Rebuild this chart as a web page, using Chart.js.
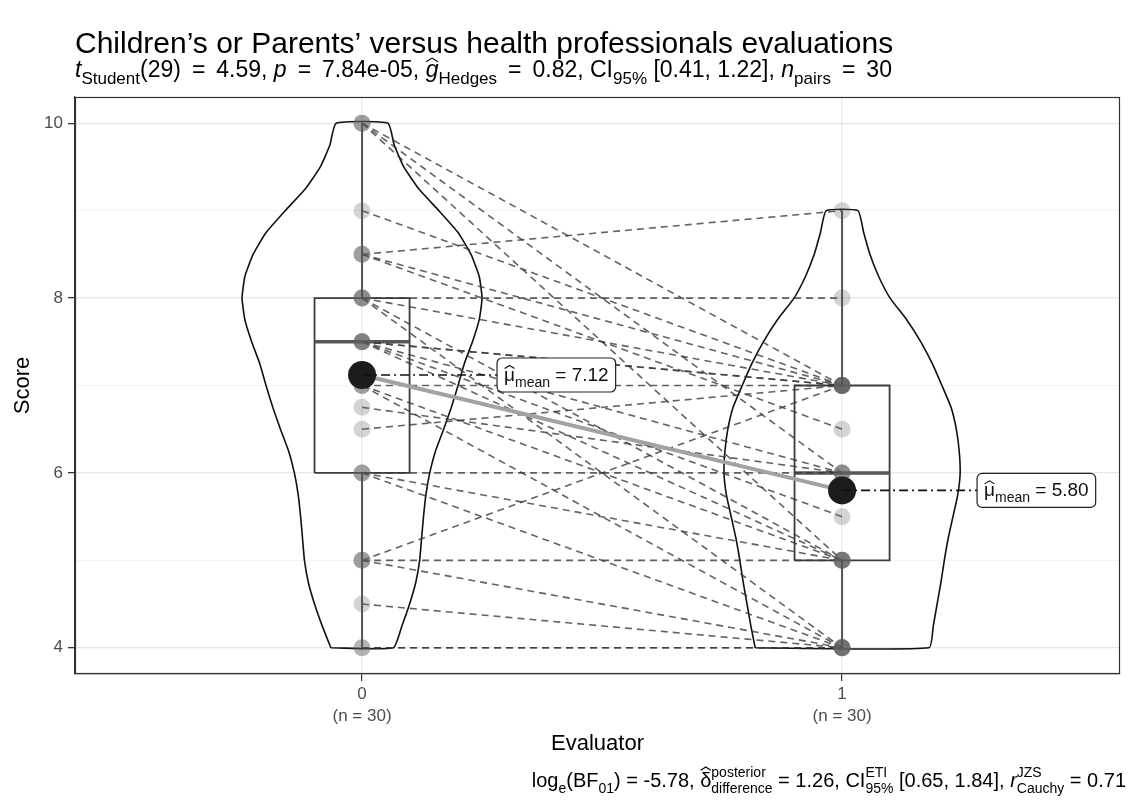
<!DOCTYPE html>
<html>
<head>
<meta charset="utf-8">
<title>Children's or Parents' versus health professionals evaluations</title>
<script src="https://cdn.jsdelivr.net/npm/chart.js@4.4.1/dist/chart.umd.min.js"></script>
<style>
  html, body { margin: 0; padding: 0; background: #fff; }
  #wrap { width: 1134px; height: 800px; }
</style>
</head>
<body>
<div id="wrap"><canvas id="chart" width="1134" height="800"></canvas></div>
<script>
'use strict';

// ---- data ----
const groups = [0, 1];
const groupLabels = [['0', '(n = 30)'], ['1', '(n = 30)']];
const yMajorTicks = [4, 6, 8, 10];
const yMinorTicks = [5, 7, 9];

// paired scores (same index = same subject)
const evaluator0 = [10, 10, 10, 9, 8.5, 8.5, 8.5, 8, 8, 8, 8, 7.5, 7.5, 7.5, 7.5, 7.5,
                    7, 7, 7, 6.75, 6.5, 6, 6, 6, 5, 5, 5, 4.5, 4, 4];
const evaluator1 = [7, 6, 5, 7, 9, 7, 6.5, 8, 7, 5, 4, 7, 7, 6, 5.5, 5,
                    7, 5, 4, 6, 7, 6, 5, 4, 7, 5, 4, 4, 4, 4];

// box plot stats
const boxQ1 = [6, 5];
const boxMedian = [7.5, 6];
const boxQ3 = [8, 7];
const whiskerLow = [4, 4];
const whiskerHigh = [10, 9];
const means = [7.12, 5.80];

// violin outlines: half width (in x units) at each score level
const violinScores0 = [4, 4.25, 4.5, 4.75, 5, 5.25, 5.5, 5.75, 6, 6.25, 6.5, 6.75, 7,
                       7.25, 7.5, 7.75, 8, 8.25, 8.5, 8.75, 9, 9.25, 9.5, 9.75, 10];
const violinWidth0 = [0.065, 0.083, 0.099, 0.112, 0.120, 0.124, 0.128, 0.133, 0.141, 0.153,
                      0.170, 0.186, 0.200, 0.213, 0.230, 0.244, 0.250, 0.244, 0.227, 0.200,
                      0.160, 0.118, 0.087, 0.067, 0.054];
const violinScores1 = [4, 4.25, 4.5, 4.75, 5, 5.25, 5.5, 5.75, 6, 6.25, 6.5, 6.75, 7,
                       7.25, 7.5, 7.75, 8, 8.25, 8.5, 8.75, 9];
const violinWidth1 = [0.181, 0.190, 0.198, 0.206, 0.213, 0.221, 0.231, 0.241, 0.246, 0.244,
                      0.238, 0.227, 0.208, 0.188, 0.164, 0.135, 0.100, 0.076, 0.058, 0.045,
                      0.033];

// ---- helpers ----
const FONT = '"Liberation Sans", Arial, Helvetica, sans-serif';
const BOX_HALF = 0.099;

function violinPath(g, scores, widths) {
    const pts = [];
    for (let i = 0; i < scores.length; i++) pts.push({x: g - widths[i], y: scores[i]});
    for (let i = scores.length - 1; i >= 0; i--) pts.push({x: g + widths[i], y: scores[i]});
    pts.push(pts[0]);
    return pts;
}

function lineSet(points, color, width, order, extra) {
    return Object.assign({
        data: points,
        showLine: true,
        borderColor: color,
        borderWidth: width,
        pointRadius: 0,
        fill: false,
        order: order
    }, extra || {});
}

// text with italics, hats, sub and superscripts
function richWidth(ctx, parts, size) {
    let w = 0;
    parts.forEach(p => {
        ctx.font = (p.it ? 'italic ' : '') + size + 'px ' + FONT;
        w += ctx.measureText(p.t).width;
        ctx.font = Math.round(size * 0.72) + 'px ' + FONT;
        const ws = p.sub ? ctx.measureText(p.sub).width : 0;
        const wp = p.sup ? ctx.measureText(p.sup).width : 0;
        w += Math.max(ws, wp);
    });
    return w;
}

function drawRich(ctx, parts, x, y, size, align) {
    if (align === 'right') x -= richWidth(ctx, parts, size);
    if (align === 'center') x -= richWidth(ctx, parts, size) / 2;
    ctx.textAlign = 'left';
    ctx.textBaseline = 'alphabetic';
    parts.forEach(p => {
        ctx.font = (p.it ? 'italic ' : '') + size + 'px ' + FONT;
        const w = ctx.measureText(p.t).width;
        ctx.fillText(p.t, x, y);
        if (p.hat) {
            const top = y - size * (p.t === 'δ' ? 1.0 : 0.82);
            const gw = ctx.measureText(p.t.slice(-1)).width;
            const gx = x + w - gw;
            ctx.save();
            ctx.lineWidth = 1.1;
            ctx.strokeStyle = ctx.fillStyle;
            ctx.beginPath();
            ctx.moveTo(gx + 0.5, top + size * 0.16);
            ctx.lineTo(gx + gw / 2, top);
            ctx.lineTo(gx + gw - 0.5, top + size * 0.16);
            ctx.stroke();
            ctx.restore();
        }
        x += w;
        ctx.font = Math.round(size * 0.72) + 'px ' + FONT;
        let adv = 0;
        if (p.sub) {
            ctx.fillText(p.sub, x, y + size * 0.3);
            adv = ctx.measureText(p.sub).width;
        }
        if (p.sup) {
            ctx.fillText(p.sup, x, y - size * 0.5);
            adv = Math.max(adv, ctx.measureText(p.sup).width);
        }
        x += adv;
    });
}

const EQ = ' \u2009=\u2009 ';

const subtitleParts = [
    {t: 't', it: true, sub: 'Student'},
    {t: '(29)' + EQ + '4.59, '},
    {t: 'p', it: true},
    {t: EQ + '7.84e-05, '},
    {t: 'g', it: true, hat: true, sub: 'Hedges'},
    {t: EQ + '0.82, CI', sub: '95%'},
    {t: ' [0.41, 1.22], '},
    {t: 'n', it: true, sub: 'pairs'},
    {t: EQ + '30'}
];

const captionParts = [
    {t: 'log', sub: 'e'},
    {t: '(BF', sub: '01'},
    {t: ') = -5.78, '},
    {t: 'δ', hat: true, sup: 'posterior', sub: 'difference'},
    {t: ' = 1.26, CI', sup: 'ETI', sub: '95%'},
    {t: ' [0.65, 1.84], '},
    {t: 'r', it: true, sup: 'JZS', sub: 'Cauchy'},
    {t: ' = 0.71'}
];

// ---- datasets ----
const datasets = [];

// violins
groups.forEach(g => {
    const scores = g === 0 ? violinScores0 : violinScores1;
    const widths = g === 0 ? violinWidth0 : violinWidth1;
    datasets.push(lineSet(violinPath(g, scores, widths), '#111', 1.6, 90, {tension: 0.15}));
});

// boxes, medians, whiskers
groups.forEach(g => {
    const box = [
        {x: g - BOX_HALF, y: boxQ1[g]}, {x: g - BOX_HALF, y: boxQ3[g]},
        {x: g + BOX_HALF, y: boxQ3[g]}, {x: g + BOX_HALF, y: boxQ1[g]},
        {x: g - BOX_HALF, y: boxQ1[g]}
    ];
    datasets.push(lineSet(box, '#3c3c3c', 1.8, 80));
    datasets.push(lineSet([{x: g - BOX_HALF, y: boxMedian[g]}, {x: g + BOX_HALF, y: boxMedian[g]}],
        '#575757', 3.5, 79));
    datasets.push(lineSet([{x: g, y: whiskerHigh[g]}, {x: g, y: boxQ3[g]}], '#555', 2, 40));
    datasets.push(lineSet([{x: g, y: boxQ1[g]}, {x: g, y: whiskerLow[g]}], '#555', 2, 40));
});

// paired lines
evaluator0.forEach((v, i) => {
    datasets.push(lineSet([{x: 0, y: v}, {x: 1, y: evaluator1[i]}],
        'rgba(55,55,55,0.78)', 1.6, 60, {borderDash: [7, 5]}));
});

// raw points
groups.forEach(g => {
    const vals = g === 0 ? evaluator0 : evaluator1;
    datasets.push({
        data: vals.map(v => ({x: g, y: v})),
        pointRadius: 8.5,
        pointBackgroundColor: 'rgba(95,95,95,0.27)',
        pointBorderWidth: 0,
        showLine: false,
        order: 50
    });
});

// centrality path between the means
datasets.push(lineSet(groups.map(g => ({x: g, y: means[g]})), '#a2a2a2', 4, 20));

// mean dots
datasets.push({
    data: groups.map(g => ({x: g, y: means[g]})),
    pointRadius: 14,
    pointBackgroundColor: '#1c1c1c',
    pointBorderWidth: 0,
    showLine: false,
    order: 0
});

// ---- text, mean labels and panel border ----
const decorPlugin = {
    id: 'decor',
    afterDatasetsDraw(chart) {
        const ctx = chart.ctx;
        const xs = chart.scales.x, ys = chart.scales.y;
        ctx.save();
        groups.forEach(g => {
            const px = xs.getPixelForValue(g);
            const py = ys.getPixelForValue(means[g]);
            const parts = [{t: 'μ', hat: true, sub: 'mean'}, {t: ' = ' + means[g].toFixed(2)}];
            const size = 19;
            const w = richWidth(ctx, parts, size) + 14;
            const h = 34;
            const bx = px + 135;
            const by = py - h / 2;

            // dash-dot connector
            ctx.setLineDash([9, 4, 2, 4]);
            ctx.strokeStyle = '#111';
            ctx.lineWidth = 1.6;
            ctx.beginPath();
            ctx.moveTo(px, py);
            ctx.lineTo(bx, py);
            ctx.stroke();
            ctx.setLineDash([]);

            // label box
            ctx.fillStyle = '#fff';
            ctx.strokeStyle = '#222';
            ctx.lineWidth = 1.2;
            ctx.beginPath();
            ctx.roundRect(bx, by, w, h, 5);
            ctx.fill();
            ctx.stroke();
            ctx.fillStyle = '#111';
            drawRich(ctx, parts, bx + 7, py + 6, size, 'left');
        });
        ctx.restore();
    },
    afterDraw(chart) {
        const ctx = chart.ctx;
        const a = chart.chartArea;
        ctx.save();

        // panel border
        ctx.strokeStyle = '#333';
        ctx.lineWidth = 1.2;
        ctx.strokeRect(a.left + 0.5, a.top + 0.5, a.right - a.left - 1, a.bottom - a.top - 1);

        // title and subtitle
        ctx.fillStyle = '#000';
        ctx.textAlign = 'left';
        ctx.textBaseline = 'alphabetic';
        ctx.font = '30px ' + FONT;
        ctx.fillText('Children\u2019s or Parents\u2019 versus health professionals evaluations', 75, 53);
        drawRich(ctx, subtitleParts, 75, 77, 23, 'left');

        // axis titles
        ctx.fillStyle = '#000';
        ctx.font = '22px ' + FONT;
        ctx.textAlign = 'center';
        ctx.fillText('Evaluator', (a.left + a.right) / 2, 750);
        ctx.save();
        ctx.translate(29, (a.top + a.bottom) / 2);
        ctx.rotate(-Math.PI / 2);
        ctx.fillText('Score', 0, 0);
        ctx.restore();

        // caption
        ctx.fillStyle = '#000';
        drawRich(ctx, captionParts, 1126, 787, 20, 'right');
        ctx.restore();
    }
};

// ---- chart ----
const ctx = document.getElementById('chart').getContext('2d');
new Chart(ctx, {
    type: 'scatter',
    data: {datasets: datasets},
    plugins: [decorPlugin],
    options: {
        responsive: false,
        animation: false,
        events: [],
        layout: {padding: {top: 97, right: 14, left: 0, bottom: 0}},
        plugins: {
            legend: {display: false},
            tooltip: {enabled: false}
        },
        scales: {
            x: {
                type: 'linear',
                min: -0.598,
                max: 1.579,
                afterFit: function(scale) { scale.height = 126; },
                afterBuildTicks: function(scale) {
                    scale.ticks = groups.map(v => ({value: v}));
                },
                ticks: {
                    autoSkip: false,
                    maxRotation: 0,
                    padding: 3,
                    color: '#4d4d4d',
                    font: {size: 17, family: FONT, lineHeight: 1.25},
                    callback: function(value) {
                        const i = groups.indexOf(value);
                        return i >= 0 ? groupLabels[i] : '';
                    }
                },
                grid: {color: '#ebebeb', lineWidth: 1.2, tickColor: '#333', tickLength: 7},
                border: {display: true, color: '#333', width: 1.2}
            },
            y: {
                min: 3.7,
                max: 10.3,
                afterFit: function(scale) { scale.width = 75; },
                afterBuildTicks: function(scale) {
                    scale.ticks = yMajorTicks.concat(yMinorTicks)
                        .sort((p, q) => p - q)
                        .map(v => ({value: v}));
                },
                ticks: {
                    autoSkip: false,
                    padding: 5,
                    color: '#4d4d4d',
                    font: {size: 17, family: FONT},
                    callback: function(value) {
                        return yMajorTicks.includes(value) ? String(value) : '';
                    }
                },
                grid: {
                    color: c => yMajorTicks.includes(c.tick && c.tick.value) ? '#e6e6e6' : '#f3f3f3',
                    lineWidth: c => yMajorTicks.includes(c.tick && c.tick.value) ? 1.3 : 1,
                    tickColor: c => yMajorTicks.includes(c.tick && c.tick.value) ? '#333' : 'rgba(0,0,0,0)',
                    tickLength: 7
                },
                border: {display: true, color: '#333', width: 1.2}
            }
        }
    }
});
</script>
</body>
</html>
